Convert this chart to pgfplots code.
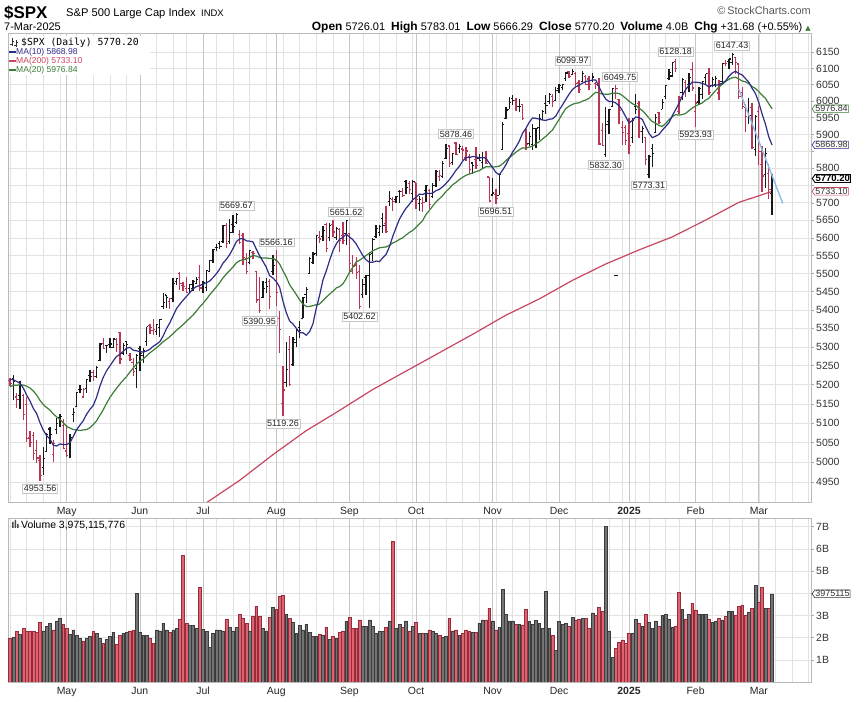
\documentclass[border=0pt]{standalone}
\usepackage{fontspec}
\setmainfont{Liberation Sans}
\newfontfamily\monofont{DejaVu Sans Mono}
\newfontfamily\symfont{DejaVu Sans}
\usepackage{pgfplots}
\usepackage{pgfplotstable}
\pgfplotsset{compat=1.18}
\usetikzlibrary{shapes.symbols}

\definecolor{dnred}{RGB}{185,55,85}
\definecolor{upblk}{RGB}{25,25,25}
\definecolor{maten}{RGB}{45,45,135}
\definecolor{matwenty}{RGB}{60,125,55}
\definecolor{mahund}{RGB}{200,70,95}
\definecolor{trendc}{RGB}{140,185,230}
\definecolor{vred}{RGB}{222,98,112}
\definecolor{vredd}{RGB}{150,45,60}
\definecolor{vgray}{RGB}{115,115,115}
\definecolor{vgrayd}{RGB}{60,60,60}
\definecolor{gridc}{RGB}{226,226,226}
\definecolor{gridm}{RGB}{198,198,198}

\pgfdeclareplotmark{otick}{\pgfpathmoveto{\pgfqpoint{-1.8bp}{0pt}}\pgfpathlineto{\pgfqpoint{0pt}{0pt}}\pgfusepathqstroke}
\pgfdeclareplotmark{ctick}{\pgfpathmoveto{\pgfqpoint{0pt}{0pt}}\pgfpathlineto{\pgfqpoint{1.8bp}{0pt}}\pgfusepathqstroke}

\pgfplotsset{
  updays/.style={restrict expr to domain={\thisrow{U}}{0.5:1.5}},
  dndays/.style={restrict expr to domain={\thisrow{U}}{-0.5:0.5}},
}
\tikzset{
  tagstyle/.style={signal, signal to=west, signal pointer angle=110, fill=white, line width=0.6bp,
    inner sep=0.6bp, anchor=west, font=\fontsize{9}{9}\selectfont, text=black!80},
  annbox/.style={draw=gray!45, fill=white, line width=0.5bp,
    font=\fontsize{9}{9}\selectfont, text=black!85, inner sep=1.3bp},
}

% i O H L C U(up=1) V(billions) MA10 MA20
\pgfplotstableread{
i O H L C U V M10 M20
0 5211 5219 5197 5202.39 0 1.97 5213.8 5194.6
1 5217 5225 5160 5209.91 1 2.00 5213.0 5199.2
2 5168 5178 5139 5160.64 0 2.27 5208.7 5198.5
3 5172 5211 5138 5199.06 1 2.15 5203.8 5200.2
4 5171 5175 5107 5123.41 0 2.40 5190.7 5198.9
5 5149 5168 5052 5061.82 0 2.27 5172.5 5196.1
6 5064 5079 5039 5051.41 0 2.30 5157.0 5191.2
7 5068 5077 5007 5022.21 0 2.27 5138.1 5183.4
8 5031 5056 4998 5011.12 0 2.25 5124.5 5172.7
9 5005 5019 4953.56 4967.23 0 2.70 5100.8 5158.9
10 4987 5038 4969 5010.60 1 2.30 5081.7 5147.8
11 5028 5076 5027 5070.55 1 2.50 5067.8 5140.4
12 5085 5089 5047 5071.63 1 2.65 5058.9 5133.8
13 5020 5058 5001 5048.42 0 2.35 5043.8 5123.8
14 5084 5114 5073 5099.96 1 2.75 5041.5 5116.1
15 5114 5124 5089 5116.17 1 2.87 5046.9 5109.7
16 5094 5110 5035 5035.69 0 2.60 5045.4 5101.2
17 5029 5096 5013 5018.39 0 2.40 5045.0 5091.6
18 5049 5073 5011 5064.20 1 2.15 5050.3 5087.4
19 5123 5139 5102 5127.79 1 2.35 5066.4 5083.6
20 5142 5181 5142 5180.74 1 2.10 5083.4 5082.6
21 5187 5200 5179 5187.70 1 1.97 5095.1 5081.5
22 5168 5191 5165 5187.67 0 1.85 5106.7 5082.8
23 5190 5214 5179 5214.08 1 1.95 5123.3 5083.6
24 5225 5240 5207 5222.68 1 2.05 5135.6 5088.6
25 5233 5238 5211 5221.42 0 2.27 5146.1 5096.5
26 5221 5250 5218 5246.68 1 2.20 5167.2 5106.3
27 5264 5311 5263 5308.15 1 1.95 5196.2 5120.6
28 5310 5325 5296 5297.10 0 1.75 5219.5 5134.9
29 5303 5305 5283 5303.27 1 1.93 5237.0 5151.7
30 5306 5325 5298 5308.13 1 2.05 5249.7 5166.6
31 5299 5324 5297 5321.41 1 2.25 5263.0 5179.1
32 5319 5323 5287 5307.01 0 1.70 5274.9 5190.8
33 5340 5341 5256 5267.84 0 2.10 5280.3 5201.8
34 5282 5311 5279 5304.72 1 2.20 5288.5 5212.1
35 5315 5316 5282 5306.04 1 2.25 5297.0 5221.6
36 5278 5283 5263 5266.95 0 2.30 5299.0 5233.1
37 5260 5270 5222 5235.48 0 2.35 5291.7 5244.0
38 5243 5281 5191 5277.51 1 4.00 5289.8 5254.7
39 5297 5303 5235 5283.40 1 2.25 5287.8 5262.4
40 5278 5298 5257 5291.34 1 2.10 5286.1 5267.9
41 5315 5355 5302 5354.03 1 2.10 5289.4 5276.2
42 5357 5362 5336 5352.96 0 1.95 5294.0 5284.5
43 5343 5376 5331 5346.99 0 1.75 5301.9 5291.1
44 5341 5361 5331 5360.79 1 2.35 5307.5 5298.0
45 5353 5376 5327 5375.32 1 2.30 5314.4 5305.7
46 5409 5447 5403 5421.03 1 2.65 5329.8 5314.4
47 5441 5442 5404 5433.74 1 2.35 5349.7 5320.7
48 5424 5432 5403 5431.60 0 2.25 5365.1 5327.5
49 5431 5489 5421 5473.23 1 2.35 5384.1 5336.0
50 5477 5488 5468 5487.03 1 2.40 5403.7 5344.9
51 5500 5505 5455 5473.17 0 2.85 5415.6 5352.5
52 5466 5478 5452 5464.62 0 5.70 5426.8 5360.4
53 5459 5490 5447 5447.87 0 2.65 5436.9 5369.4
54 5460 5472 5446 5469.30 1 2.55 5447.7 5377.6
55 5460 5483 5451 5477.90 1 2.55 5458.0 5386.2
56 5473 5490 5471 5482.87 1 2.40 5464.2 5397.0
57 5488 5523 5452 5460.48 0 4.28 5466.8 5408.3
58 5471 5480 5447 5475.09 1 2.37 5471.1 5418.1
59 5462 5510 5453 5509.01 1 2.27 5474.7 5429.4
60 5506 5539 5504 5537.02 1 1.56 5479.7 5441.7
61 5537 5570 5531 5567.19 1 2.20 5489.1 5452.4
62 5573 5584 5563 5572.85 1 2.35 5499.9 5463.4
63 5584 5590 5569 5576.98 1 2.35 5512.8 5474.9
64 5591 5636 5587 5633.91 1 2.27 5529.3 5488.5
65 5636 5642 5571 5584.54 0 2.82 5540.0 5499.0
66 5590 5655 5584 5615.35 1 2.46 5553.2 5508.7
67 5638 5666 5615 5631.22 1 2.30 5570.3 5518.6
68 5644 5669.67 5639 5667.20 1 2.46 5589.5 5530.3
69 5610 5622 5584 5588.27 0 3.06 5597.4 5536.1
70 5608 5614 5523 5544.59 0 2.87 5598.2 5539.0
71 5543 5557 5498 5505.00 0 2.64 5592.0 5540.6
72 5531 5564.8 5526 5564.41 1 2.30 5591.1 5545.5
73 5560 5563 5541 5555.74 0 2.97 5589.0 5550.9
74 5505 5508 5419 5427.13 0 3.40 5568.3 5548.8
75 5428 5491 5390.95 5399.22 0 2.95 5549.7 5544.9
76 5433 5480 5433 5459.10 1 2.40 5534.1 5543.7
77 5476 5487 5445 5463.54 1 2.30 5517.4 5543.9
78 5479 5486 5402 5436.44 0 2.90 5494.3 5541.9
79 5505 5551 5495 5522.30 1 3.35 5487.7 5542.6
80 5537 5566.16 5410 5446.68 0 3.27 5477.9 5538.1
81 5376 5396 5283 5346.56 0 3.85 5462.1 5527.1
82 5151 5250 5119.26 5186.33 0 3.90 5424.3 5507.7
83 5206 5312 5193 5240.03 1 3.05 5392.7 5490.9
84 5293 5330 5196 5199.50 0 2.87 5370.0 5469.2
85 5253 5327 5249 5319.31 1 2.69 5362.0 5455.9
86 5312 5351 5300 5344.16 1 2.18 5350.5 5442.3
87 5352 5371 5324 5344.39 1 2.56 5338.5 5428.0
88 5377 5436 5377 5434.43 1 2.35 5338.3 5416.3
89 5443 5464 5420 5455.21 1 2.60 5331.6 5409.7
90 5501 5546 5501 5543.22 1 2.24 5341.2 5409.6
91 5531 5561 5526 5554.25 1 2.05 5361.9 5412.0
92 5557 5609 5550 5608.25 1 2.05 5404.1 5414.2
93 5602 5621 5585 5597.12 0 2.15 5439.8 5416.3
94 5603 5633 5591 5620.85 1 2.10 5481.9 5426.0
95 5637 5643 5560 5570.64 0 2.45 5507.1 5434.6
96 5602 5642 5590 5634.61 1 1.93 5536.2 5443.4
97 5639 5651 5602 5616.84 0 2.05 5563.5 5451.0
98 5602 5631 5593 5625.80 1 1.95 5582.7 5460.5
99 5624 5628 5560 5592.18 0 2.25 5596.4 5464.0
100 5608 5646 5584 5591.96 0 2.30 5601.3 5471.3
101 5612 5651.62 5581 5648.40 1 2.72 5610.7 5486.3
102 5612 5613 5503 5528.93 0 2.90 5602.8 5503.5
103 5506 5552 5498 5520.07 0 2.40 5595.1 5517.5
104 5524 5546 5485 5503.41 0 2.40 5583.3 5532.6
105 5507 5523 5402.62 5408.42 0 2.80 5567.0 5537.1
106 5443 5485 5434 5471.05 1 2.50 5550.6 5543.4
107 5490 5497 5442 5495.52 1 2.50 5538.5 5551.0
108 5496 5560 5406 5554.13 1 2.80 5531.3 5557.0
109 5557 5600 5535 5595.76 1 2.50 5531.7 5564.1
110 5603 5636 5601 5626.02 1 2.20 5535.1 5568.2
111 5615 5637 5604 5633.09 1 2.27 5533.6 5572.2
112 5655 5671 5615 5634.58 1 2.27 5544.2 5573.5
113 5641 5690 5615 5618.26 0 2.45 5554.0 5574.6
114 5703 5734 5690 5713.64 1 2.75 5575.1 5579.2
115 5709 5716 5676 5702.55 0 6.35 5604.6 5585.8
116 5711 5721 5699 5718.57 1 2.42 5629.4 5590.0
117 5733 5736 5701 5732.93 1 2.60 5653.1 5595.8
118 5734 5742 5718 5722.26 0 2.45 5669.9 5600.6
119 5762 5767 5726 5745.37 1 2.75 5684.8 5608.3
120 5756 5764 5727 5738.17 0 2.30 5696.0 5615.6
121 5727 5765 5703 5762.48 1 2.50 5708.9 5621.3
122 5758 5758 5681 5708.75 0 2.67 5716.3 5630.3
123 5698 5720 5677 5709.54 1 2.20 5725.5 5639.8
124 5698 5718 5675 5699.94 0 2.20 5724.1 5649.6
125 5737 5753 5703 5751.07 1 2.20 5728.9 5666.8
126 5737 5739 5683 5695.94 0 2.35 5726.6 5678.0
127 5719 5757 5714 5751.13 1 2.27 5728.4 5690.8
128 5751 5796 5746 5792.04 1 2.20 5735.4 5702.7
129 5778 5796 5764 5780.05 0 2.09 5738.9 5711.9
130 5776 5823 5773 5815.03 1 2.00 5746.6 5721.3
131 5829 5871 5829 5859.85 1 2.05 5756.4 5732.7
132 5866 5870 5805 5815.26 0 2.87 5767.0 5741.7
133 5817 5846 5809 5842.47 1 2.30 5780.2 5752.9
134 5875 5878.46 5840 5841.47 0 2.35 5794.3 5759.2
135 5859 5872 5846 5864.67 1 2.09 5805.7 5767.3
136 5857 5866 5824 5853.98 0 2.20 5821.5 5774.1
137 5833 5863 5822 5851.20 0 2.35 5831.5 5780.0
138 5835 5843 5784 5797.42 0 2.27 5832.0 5783.7
139 5816 5817 5784 5809.86 1 2.25 5835.0 5787.0
140 5827 5863 5799 5808.12 0 2.25 5834.3 5790.5
141 5830 5843 5822 5823.52 1 2.64 5830.7 5793.6
142 5818 5847 5798 5832.92 1 2.80 5832.5 5799.8
143 5833 5851 5814 5813.67 0 2.80 5829.7 5805.0
144 5775 5775 5703 5705.45 0 3.32 5816.1 5805.2
145 5723 5772 5723 5728.80 1 2.75 5802.5 5804.1
146 5725 5741 5696.51 5712.69 0 2.35 5788.4 5805.0
147 5722 5783 5722 5782.76 1 2.45 5781.6 5806.6
148 5856 5937 5856 5929.04 1 4.16 5794.8 5813.4
149 5947 5983 5946 5973.10 1 3.06 5811.1 5823.1
150 5976 6013 5976 5995.54 1 2.75 5829.9 5832.1
151 6009 6018 5988 6001.35 1 2.75 5847.6 5839.2
152 6003 6010 5971 5983.99 0 2.60 5862.7 5847.6
153 5985 6008 5966 5985.38 1 2.60 5879.8 5854.8
154 5989 5993 5944 5949.17 0 2.57 5904.2 5860.2
155 5912 5915 5853 5870.62 0 3.26 5918.4 5860.5
156 5874 5909 5866 5893.62 1 2.72 5936.5 5862.5
157 5870 5932 5855 5916.98 1 2.60 5949.9 5865.8
158 5917 5921 5860 5917.11 1 2.78 5948.7 5871.8
159 5922 5963 5885 5948.71 1 2.65 5946.3 5878.7
160 5944 5973 5944 5969.34 1 2.40 5943.6 5886.8
161 5993 6020 5963 5987.37 1 4.10 5942.2 5894.9
162 6000 6025 5992 6021.63 1 2.42 5946.0 5904.4
163 6014 6021 5984 5998.74 0 2.10 5947.4 5913.6
164 6003 6044 6003 6032.38 1 1.44 5955.7 5930.0
165 6040 6053 6026 6047.15 1 2.72 5973.3 5945.9
166 6041 6053 6034 6049.88 1 2.60 5988.9 5962.7
167 6069 6089 6062 6086.49 1 2.65 6005.8 5977.9
168 6090 6092 6071 6075.11 0 2.52 6021.6 5985.2
169 6082 6099.97 6079 6090.27 1 2.90 6035.7 5991.0
170 6084 6089 6048 6052.85 0 2.80 6044.1 5993.9
171 6058 6066 6025 6034.91 0 2.82 6048.9 5995.6
172 6060 6093 6058 6084.19 1 2.87 6055.1 6000.6
173 6075 6079 6051 6051.25 0 2.87 6060.3 6003.9
174 6068 6078 6035 6051.09 0 2.42 6062.2 6009.0
175 6064 6085 6060 6074.08 1 3.12 6064.9 6019.1
176 6053 6058 6036 6050.61 0 3.00 6065.0 6027.0
177 6048 6070 5870 5872.16 0 3.35 6043.6 6024.7
178 5912 5935 5866 5867.08 0 3.17 6022.8 6022.2
179 5842 5982 5832.30 5930.85 1 7.00 6006.9 6021.3
180 5940 5978 5902 5974.07 1 2.30 5999.0 6021.6
181 5984 6040 5983 6040.04 1 1.10 5999.5 6024.2
182 6024 6049.75 6007 6037.59 0 1.50 5994.9 6025.0
183 6006 6006 5932 5970.84 0 1.80 5986.9 6023.6
184 5920 5941 5869 5906.94 0 1.90 5972.5 6017.4
185 5920 5929 5869 5881.63 0 1.75 5953.3 6009.1
186 5904 5949 5842 5868.55 0 2.20 5935.1 6000.1
187 5891 5950 5876 5942.47 1 2.20 5942.1 5992.9
188 5983 6022 5961 5975.38 1 2.82 5952.9 5987.9
189 5993 6001 5890 5909.03 0 2.65 5950.7 5978.8
190 5910 5927 5874 5918.25 1 2.50 5945.1 5972.1
191 5890 5891 5809 5827.04 0 3.06 5923.8 5961.7
192 5782 5839 5773.31 5836.22 1 2.70 5903.6 5949.3
193 5859 5872 5803 5842.91 1 2.42 5890.8 5938.9
194 5905 5961 5905 5949.91 1 2.75 5895.1 5933.8
195 5967 5968 5932 5937.34 0 2.50 5900.6 5927.0
196 5976 6006 5976 5996.66 1 3.00 5913.4 5924.3
197 6014 6051 6006 6049.24 1 3.05 5924.1 5933.1
198 6069 6100 6064 6086.37 1 2.83 5935.2 5944.1
199 6077 6119 6074 6118.71 1 2.45 5956.2 5953.5
200 6121 6128.18 6089 6101.24 0 2.52 5974.5 5959.8
201 5970 6017 5962 6012.28 0 4.04 5993.0 5958.4
202 6026 6070 6003 6067.70 1 3.27 6016.2 5959.9
203 6058 6064 6014 6039.31 0 2.84 6035.8 5963.3
204 6051 6087 6028 6071.17 1 3.06 6047.9 5971.5
205 6096 6120 6031 6040.53 0 3.55 6058.3 5979.5
206 5970 6022 5923.93 5994.57 0 3.25 6058.1 5985.8
207 5998 6042 5990 6037.88 1 3.05 6057.0 5990.6
208 6021 6062 6007 6061.48 1 3.06 6054.5 5994.9
209 6072 6084 6050 6083.57 1 3.05 6051.0 6003.6
210 6086 6101 6020 6025.99 0 2.84 6043.5 6009.0
211 6047 6073 6044 6066.44 1 2.70 6048.9 6021.0
212 6050 6076 6042 6068.50 1 2.72 6049.0 6032.6
213 6025 6064 6003 6051.97 0 2.87 6050.3 6043.1
214 6060 6116 6051 6115.07 1 2.80 6054.7 6051.3
215 6115 6127 6107 6114.63 0 2.95 6062.1 6060.2
216 6121 6129.63 6099 6129.58 1 3.17 6075.6 6066.9
217 6118 6147.43 6111 6144.15 1 3.17 6086.2 6071.6
218 6134 6134 6084 6117.52 0 3.00 6091.9 6073.2
219 6114 6114 6008 6013.13 0 3.40 6084.8 6067.9
220 6027 6043 5977 5983.25 0 3.47 6080.5 6062.0
221 5982 5992 5909 5955.25 0 3.00 6069.4 6059.2
222 5971 6009 5933 5956.06 1 3.15 6058.1 6053.6
223 5981 5994 5858 5861.57 0 3.32 6039.1 6044.7
224 5856 5959 5837 5954.50 1 4.37 6023.1 6038.9
225 5968 5986 5810 5849.72 0 3.60 5996.6 6029.4
226 5811 5865 5732 5778.15 0 4.26 5961.4 6018.5
227 5782 5860 5743 5842.63 1 3.32 5931.3 6008.8
228 5786 5812 5711 5738.52 0 3.32 5893.4 5992.7
229 5726.01 5783.01 5666.29 5770.20 1 3.975 5868.98 5976.84
}\spx

\pgfplotstableread{
x y
49 4849.6
59 4899.3
69 4955.1
79 5019.7
89 5080.7
99 5133.0
109 5187.6
119 5236.0
129 5284.6
139 5334.2
149 5385.7
159 5430.1
169 5481.5
179 5526.8
189 5566.1
199 5603.1
209 5650.6
219 5701.5
229 5733.1
}\mahundred

\pgfplotstableread{
x y
219 6037
232.2 5698
}\trendtab

% stray print on the reference chart
\pgfplotstableread{
x y
182.1 5495.6
}\stray

\pgfplotstableread{
x y t
68 5669.67 5669.67
80 5566.16 5566.16
101 5651.62 5651.62
134 5878.46 5878.46
169 6099.97 6099.97
183.3 6049.75 6049.75
200 6128.18 6128.18
217 6147.43 6147.43
}\annothigh

\pgfplotstableread{
x y t
9 4953.56 4953.56
75 5390.95 5390.95
82 5119.26 5119.26
105 5402.62 5402.62
146 5696.51 5696.51
179 5832.30 5832.30
192 5773.31 5773.31
206 5923.93 5923.93
}\annotlow

\pgfplotsset{
  chartbase/.style={
    anchor=south west, scale only axis, width=803.7bp,
    xmin=-0.63, xmax=240.9,
    clip mode=individual,
    axis line style={draw=gray!55, line width=0.6bp},
    xtick={0,5,10,15,20,25,30,35,39,44,49,53,58,62,67,72,77,82,87,92,97,102,106,111,116,121,126,131,136,141,146,151,156,161,165,170,175,180,184,188,192,197,201,206,211,216,220,225,230,235,240},
    xticklabels={},
    xmajorgrids, ymajorgrids,
    major grid style={draw=gridc, line width=0.6bp},
    xtick style={draw=none},
    extra x ticks={17,39,58,80,102,122,145,165,186,206,225},
    extra x tick labels={May,Jun,Jul,Aug,Sep,Oct,Nov,Dec,\textbf{2025},Feb,Mar},
    extra x tick style={grid=major, major grid style={draw=gridm, line width=0.7bp}, xtick style={draw=none}},
    xticklabel style={font=\fontsize{10.5}{10.5}\selectfont, text=black!85, yshift=1bp},
    ytick pos=right, yticklabel pos=right,
    ytick style={draw=gray!70, line width=0.5bp},
    tick align=outside, major tick length=2.5bp,
    yticklabel style={font=\fontsize{10.5}{10.5}\selectfont, text=black!80, xshift=-1.5bp},
  },
}

\begin{document}
\begin{tikzpicture}
\path[use as bounding box] (0bp,0bp) rectangle (865bp,702bp);

% ---------------- price panel (log scale: y = ln(price)) ----------------
\begin{axis}[chartbase, at={(8bp,200bp)}, height=469bp,
  ymin=8.497194, ymax=8.733916,
  ytick={8.507143,8.517193,8.527143,8.536996,8.546752,8.556414,8.565983,8.575462,8.584852,8.594154,8.603371,8.612503,8.621553,8.630522,8.639411,8.648221,8.656955,8.665613,8.674197,8.682707,8.691146,8.699515,8.707813,8.716044,8.724207},
  yticklabels={4950,5000,5050,5100,5150,5200,5250,5300,5350,5400,5450,5500,5550,5600,5650,5700,,5800,,5900,5950,6000,6050,6100,6150},
]
\addplot[mahund, line width=1.2bp] table[x=x,y expr=ln(\thisrow{y})]{\mahundred};
% down bars (high-low span)
\addplot[draw=none, mark=none, forget plot, dndays,
  error bars/.cd, y dir=plus, y explicit, error mark=none,
  error bar style={draw=dnred, line width=1.3bp}]
  table[x=i, y expr=ln(\thisrow{L}), y error expr=ln(\thisrow{H})-ln(\thisrow{L})]{\spx};
\addplot[only marks, mark=otick, dnred, mark options={line width=1.1bp}, dndays] table[x=i,y expr=ln(\thisrow{O})]{\spx};
\addplot[only marks, mark=ctick, dnred, mark options={line width=1.1bp}, dndays] table[x=i,y expr=ln(\thisrow{C})]{\spx};
% up bars
\addplot[draw=none, mark=none, forget plot, updays,
  error bars/.cd, y dir=plus, y explicit, error mark=none,
  error bar style={draw=upblk, line width=1.3bp}]
  table[x=i, y expr=ln(\thisrow{L}), y error expr=ln(\thisrow{H})-ln(\thisrow{L})]{\spx};
\addplot[only marks, mark=otick, upblk, mark options={line width=1.1bp}, updays] table[x=i,y expr=ln(\thisrow{O})]{\spx};
\addplot[only marks, mark=ctick, upblk, mark options={line width=1.1bp}, updays] table[x=i,y expr=ln(\thisrow{C})]{\spx};
\addplot[only marks, mark=otick, upblk, mark options={line width=1.2bp}] table[x=x,y expr=ln(\thisrow{y})]{\stray};
\addplot[only marks, mark=ctick, upblk, mark options={line width=1.2bp}] table[x=x,y expr=ln(\thisrow{y})]{\stray};
% moving averages
\addplot[matwenty, line width=1.2bp] table[x=i,y expr=ln(\thisrow{M20})]{\spx};
\addplot[maten, line width=1.2bp] table[x=i,y expr=ln(\thisrow{M10})]{\spx};
% trend line
\addplot[trendc, line width=1.4bp] table[x=x,y expr=ln(\thisrow{y})]{\trendtab};
% annotations
\addplot[draw=none, mark=none, nodes near coords, point meta=explicit symbolic,
  every node near coord/.style={annbox, anchor=south, yshift=3bp}]
  table[x=x,y expr=ln(\thisrow{y}),meta=t]{\annothigh};
\addplot[draw=none, mark=none, nodes near coords, point meta=explicit symbolic,
  every node near coord/.style={annbox, anchor=north, yshift=-3bp}]
  table[x=x,y expr=ln(\thisrow{y}),meta=t]{\annotlow};
% value tags
\node[tagstyle, draw=matwenty] at (axis cs:240.9,8.695647) {5976.84};
\node[tagstyle, draw=maten] at (axis cs:240.9,8.677437) {5868.98};
\node[tagstyle, draw=mahund] at (axis cs:240.9,8.654012) {5733.10};
\node[tagstyle, draw=black, line width=0.9bp, font=\bfseries\fontsize{9.5}{9.5}\selectfont, text=black] at (axis cs:240.9,8.660462) {5770.20};
\end{axis}

% ---------------- volume panel ----------------
\begin{axis}[chartbase, at={(8bp,20bp)}, height=164bp,
  ymin=0, ymax=7.39,
  ytick={1,2,3,4,5,6,7}, yticklabels={1B,2B,3B,,5B,6B,7B},
]
\addplot[ybar, bar width=0.84, bar shift=0pt, fill=vred, draw=vredd, line width=0.5bp, dndays] table[x=i,y=V]{\spx};
\addplot[ybar, bar width=0.84, bar shift=0pt, fill=vgray, draw=vgrayd, line width=0.5bp, updays] table[x=i,y=V]{\spx};
\node[tagstyle, draw=black!80] at (axis cs:240.9,3.975) {3975115};
\end{axis}

\begin{scope}[x=1bp,y=1bp]
% ---------------- header ----------------
\node[anchor=base west, inner sep=0, font=\bfseries\fontsize{17}{17}\selectfont] at (4,683) {\$SPX};
\node[anchor=base west, inner sep=0, font=\fontsize{11.2}{11.2}\selectfont] at (66,685) {S\&P 500 Large Cap Index};
\node[anchor=base west, inner sep=0, font=\fontsize{9.5}{9.5}\selectfont] at (201,685) {INDX};
\node[anchor=base west, inner sep=0, font=\fontsize{11}{11}\selectfont] at (4,671) {7-Mar-2025};
\node[anchor=base east, inner sep=0, font=\fontsize{11}{11}\selectfont] at (811,671)
  {{\bfseries\fontsize{12}{12}\selectfont Open} 5726.01\ \ {\bfseries\fontsize{12}{12}\selectfont High} 5783.01\ \ {\bfseries\fontsize{12}{12}\selectfont Low} 5666.29\ \ {\bfseries\fontsize{12}{12}\selectfont Close} 5770.20\ \ {\bfseries\fontsize{12}{12}\selectfont Volume} 4.0B\ \ {\bfseries\fontsize{12}{12}\selectfont Chg} +31.68 (+0.55\%) {\symfont\fontsize{7}{7}\selectfont\textcolor{matwenty}{▲}}};
\node[anchor=base east, inner sep=0, font=\fontsize{11}{11}\selectfont, text=black!65] at (811,687) {\textcopyright\,StockCharts.com};

% ---------------- legend ----------------
\fill[white] (9,627) rectangle (150,666);
\draw[black!80, line width=0.8bp] (12,656) -- (12,664) (10,658) -- (12,658) (12,661) -- (14,661);
\draw[black!80, line width=0.8bp] (16,655) -- (16,662) (14,657) -- (16,657) (16,660) -- (18,660);
\node[anchor=base west, inner sep=0, font=\monofont\fontsize{9.8}{9.8}\selectfont] at (21,656) {\$SPX (Daily) 5770.20};
\draw[maten, line width=1.6bp] (9,650) -- (16,650);
\node[anchor=base west, inner sep=0, font=\fontsize{8.6}{8.6}\selectfont, text=maten] at (16,647) {MA(10) 5868.98};
\draw[mahund, line width=1.6bp] (9,641) -- (16,641);
\node[anchor=base west, inner sep=0, font=\fontsize{8.6}{8.6}\selectfont, text=mahund] at (16,638) {MA(200) 5733.10};
\draw[matwenty, line width=1.6bp] (9,632) -- (16,632);
\node[anchor=base west, inner sep=0, font=\fontsize{8.6}{8.6}\selectfont, text=matwenty] at (16,629) {MA(20) 5976.84};

% volume legend
\fill[black!70] (12,174) rectangle (13.5,180) (14.5,174) rectangle (16,182) (17,174) rectangle (18.5,178);
\node[anchor=base west, inner sep=0, font=\fontsize{10.5}{10.5}\selectfont] at (21,174) {Volume 3,975,115,776};
\end{scope}
\end{tikzpicture}
\end{document}
